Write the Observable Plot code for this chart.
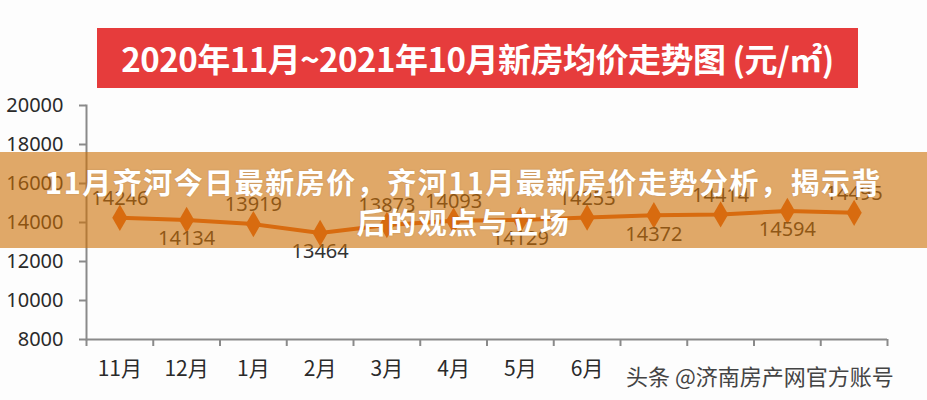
<!DOCTYPE html>
<html><head><meta charset="utf-8">
<script src="https://cdn.jsdelivr.net/npm/d3@7"></script>
<script src="https://cdn.jsdelivr.net/npm/@observablehq/plot@0.6"></script>
<style>
body{margin:0;background:#fdfdfd;}
#wrap{position:relative;width:927px;height:400px;overflow:hidden;font-family:"Noto Sans CJK SC","Noto Sans",sans-serif;background:#fdfdfd;}
#chart{position:absolute;left:0;top:0;}
#title{position:absolute;left:97px;top:28px;width:761px;height:60px;background:#e63c3c;color:#fff;font-weight:bold;font-size:33px;display:flex;align-items:center;justify-content:center;white-space:nowrap;letter-spacing:-0.5px;}
#band{position:absolute;left:0;top:152px;width:927px;height:96px;background:rgba(205,112,5,0.6);color:#fff;font-weight:bold;font-size:29px;letter-spacing:1.5px;text-align:center;line-height:40px;padding-top:9px;box-sizing:border-box;white-space:nowrap;text-shadow:0 0 2px rgba(0,0,0,0.15);}
#wm{position:absolute;left:620px;top:358px;height:34px;padding:0 6px;background:#fdfdfd;color:#444;font-size:22px;line-height:34px;white-space:nowrap;}
</style></head>
<body>
<div id="wrap">
  <div id="chart"></div>
  <div id="title"></div>
  <div id="band"></div>
  <div id="wm"></div>
</div>
<script>
const titleText = "2020年11月~2021年10月新房均价走势图 (元/㎡)";
const bandLines = ["11月齐河今日最新房价，齐河11月最新房价走势分析，揭示背", "后的观点与立场"];
const watermark = "头条 @济南房产网官方账号";
const months = ["11月","12月","1月","2月","3月","4月","5月","6月","7月","8月","9月","10月"];
const prices = [14246,14134,13919,13464,13873,14093,14129,14253,14372,14414,14594,14495];
const labelPos = ["above","below","above","below","above","above","below","above","below","above","below","above"];
const yTicks = [8000,10000,12000,14000,16000,18000,20000];

document.getElementById("title").textContent = titleText;
const band = document.getElementById("band");
bandLines.forEach(t => { const d = document.createElement("div"); d.textContent = t; band.appendChild(d); });
document.getElementById("wm").textContent = watermark;

const data = months.map((m, i) => ({i, month: m, price: prices[i], pos: labelPos[i]}));
const lineColor = "#e8641e";
const axisColor = "#8a8a8a";

const chart = Plot.plot({
  width: 927, height: 400,
  marginLeft: 86, marginRight: 40, marginTop: 105, marginBottom: 61,
  style: {background: "transparent", fontFamily: "'Noto Sans','Noto Sans CJK SC',sans-serif", color: "#2a2a2a"},
  x: {type: "linear", domain: [-0.5, 11.5], axis: null, label: null},
  y: {domain: [8000, 20000], axis: null, label: null},
  marks: [
    Plot.axisY(yTicks, {label: null, tickSize: 7, tickPadding: 16, stroke: axisColor, strokeWidth: 2, fill: "#2a2a2a", fontSize: 20, tickFormat: d => String(d)}),
    Plot.frame({anchor: "left", stroke: axisColor, strokeWidth: 2}),
    Plot.ruleY([8000], {stroke: axisColor, strokeWidth: 2}),
    Plot.axisX(d3.range(-0.5, 12, 1), {label: null, tickSize: 7, stroke: axisColor, strokeWidth: 2, tickFormat: () => ""}),
    Plot.axisX(d3.range(12), {label: null, tickSize: 0, tickPadding: 22, fontSize: 21, fill: "#2a2a2a", fontFamily: "'Noto Sans CJK SC',sans-serif", tickFormat: i => months[i]}),
    Plot.line(data, {x: "i", y: "price", stroke: lineColor, strokeWidth: 4}),
    Plot.dot(data, {x: "i", y: "price", symbol: "diamond", r: 8, fill: lineColor, stroke: "none"}),
    Plot.text(data.filter(d => d.pos === "above"), {x: "i", y: "price", text: d => String(d.price), dy: -19, fontSize: 20, fill: "#333"}),
    Plot.text(data.filter(d => d.pos === "below"), {x: "i", y: "price", text: d => String(d.price), dy: 19, fontSize: 20, fill: "#333"})
  ]
});
document.getElementById("chart").appendChild(chart);
</script>
</body></html>
